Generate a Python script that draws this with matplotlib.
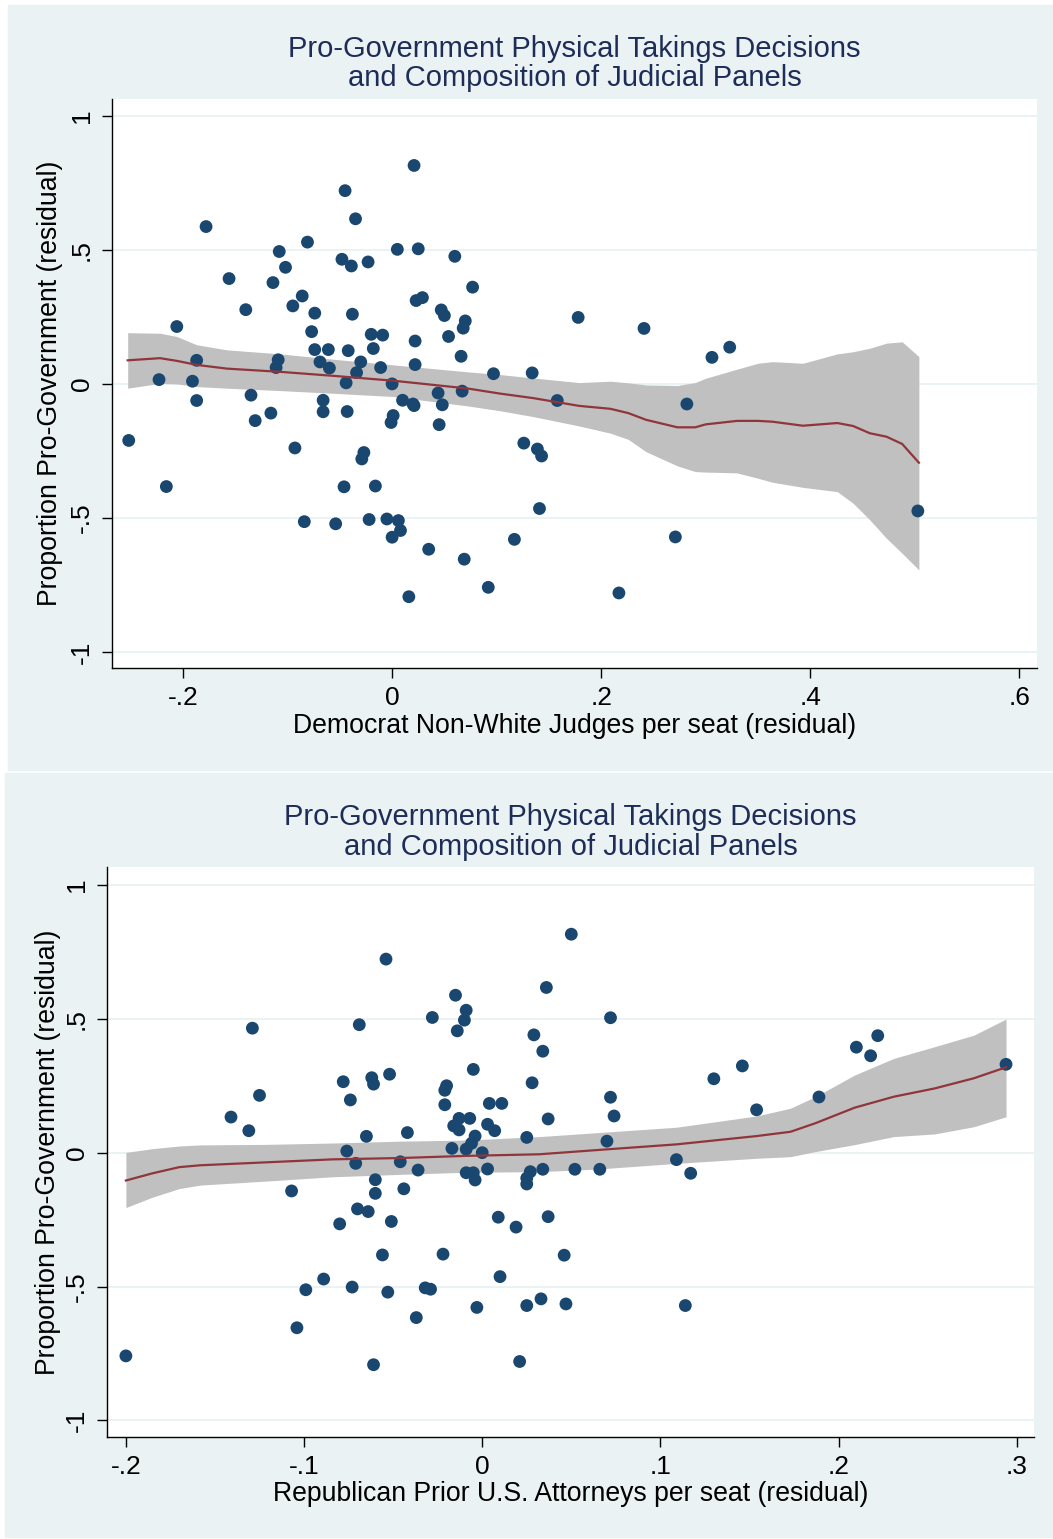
import numpy as np
import matplotlib
matplotlib.use("Agg")
import matplotlib.pyplot as plt
from matplotlib.patches import Rectangle

plt.rcParams['font.family'] = ['Liberation Sans', 'DejaVu Sans']

# --------------------------
# Colours (Stata s2color look)
# --------------------------
BG = "#EAF2F3"
NAVY = "#1A476F"
TITLE_NAVY = "#1E2D58"
MAROON = "#90353B"
BAND = "#C0C0C0"

# --------------------------
# Panel 1 data: Democrat Non-White Judges per seat
# --------------------------
dem_x = [0.021, -0.045, -0.035, -0.178, -0.081, -0.108, 0.005, 0.025, 0.060, -0.048,
         -0.039, -0.023, -0.102, -0.156, -0.114, 0.077, -0.140, -0.086, -0.095, -0.074,
         -0.038, 0.023, 0.029, 0.047, 0.050, 0.070, 0.068, 0.054, -0.206, -0.077,
         0.022, -0.020, -0.009, -0.018, -0.074, -0.061, -0.042, 0.066, -0.109, -0.111,
         -0.187, -0.069, -0.060, -0.030, -0.034, -0.011, 0.022, 0.097, -0.223, -0.191,
         -0.044, 0.000, -0.187, -0.135, -0.116, -0.131, -0.066, -0.066, -0.043, 0.010,
         0.020, 0.021, 0.044, 0.067, 0.048, 0.001, -0.001, 0.045, -0.252, -0.093,
         -0.027, -0.029, -0.216, -0.046, -0.016, -0.084, -0.054, -0.022, -0.005, 0.006,
         0.008, 0.000, 0.035, 0.069, 0.092, 0.016,
         0.134, 0.178, 0.241, 0.306, 0.323, 0.158, 0.282, 0.126, 0.139, 0.143,
         0.141, 0.503, 0.117, 0.271, 0.217]
dem_y = [0.815, 0.721, 0.616, 0.587, 0.529, 0.494, 0.502, 0.504, 0.476, 0.465,
         0.440, 0.455, 0.435, 0.393, 0.378, 0.361, 0.277, 0.328, 0.291, 0.264,
         0.260, 0.311, 0.322, 0.276, 0.255, 0.235, 0.208, 0.177, 0.214, 0.195,
         0.160, 0.185, 0.182, 0.132, 0.128, 0.128, 0.124, 0.103, 0.090, 0.061,
         0.088, 0.082, 0.059, 0.082, 0.042, 0.061, 0.072, 0.038, 0.016, 0.010,
         0.004, 0.000, -0.062, -0.042, -0.109, -0.137, -0.061, -0.104, -0.103, -0.061,
         -0.075, -0.081, -0.034, -0.027, -0.078, -0.118, -0.144, -0.152, -0.211, -0.239,
         -0.256, -0.280, -0.383, -0.384, -0.381, -0.514, -0.522, -0.506, -0.504, -0.510,
         -0.547, -0.572, -0.617, -0.654, -0.759, -0.794,
         0.041, 0.248, 0.207, 0.099, 0.137, -0.062, -0.075, -0.221, -0.243, -0.269,
         -0.465, -0.474, -0.580, -0.571, -0.780]

# smoothed fit with confidence band
dem_fit_x = [-0.253, -0.222, -0.206, -0.187, -0.158, -0.107, -0.056, 0.001, 0.072, 0.103,
             0.135, 0.179, 0.209, 0.226, 0.243, 0.273, 0.290, 0.300, 0.330, 0.350,
             0.364, 0.393, 0.426, 0.441, 0.457, 0.473, 0.488, 0.504]
dem_fit = [0.088, 0.096, 0.086, 0.071, 0.057, 0.045, 0.030, 0.012, -0.017, -0.036,
           -0.053, -0.082, -0.093, -0.109, -0.134, -0.162, -0.162, -0.151, -0.138, -0.138,
           -0.141, -0.156, -0.146, -0.157, -0.184, -0.197, -0.224, -0.294]
dem_hi = [0.191, 0.189, 0.177, 0.146, 0.127, 0.112, 0.092, 0.071, 0.045, 0.035,
          0.022, 0.005, 0.010, 0.004, -0.004, -0.006, 0.005, 0.021, 0.055, 0.077,
          0.083, 0.077, 0.112, 0.120, 0.133, 0.152, 0.157, 0.102]
dem_lo = [-0.016, 0.002, 0.000, -0.010, -0.016, -0.025, -0.035, -0.047, -0.082, -0.100,
          -0.122, -0.157, -0.184, -0.207, -0.253, -0.306, -0.327, -0.329, -0.332, -0.352,
          -0.367, -0.386, -0.402, -0.445, -0.507, -0.576, -0.632, -0.694]

# --------------------------
# Panel 2 data: Republican Prior U.S. Attorneys per seat
# --------------------------
rep_x = [-0.054, -0.015, -0.009, -0.010, -0.014, -0.028, 0.036, -0.129, -0.069, 0.029,
         0.034, -0.005, -0.052, -0.078, -0.062, -0.061, 0.028, -0.020, -0.021, -0.125,
         -0.074, -0.021, 0.004, 0.011, -0.141, 0.037, -0.013, -0.007, -0.016, -0.013,
         0.003, 0.007, -0.131, -0.065, -0.042, 0.025, -0.004, -0.006, -0.017, -0.009,
         0.000, -0.076, -0.071, -0.046, -0.036, -0.009, -0.004, -0.005, 0.003, 0.027,
         0.025, 0.034, -0.107, -0.060, -0.060, -0.044, -0.070, -0.064, -0.080, -0.051,
         0.009, 0.019, 0.037, -0.056, -0.022, 0.010, -0.089, -0.099, -0.073, -0.053,
         -0.032, -0.029, -0.003, 0.025, 0.033, -0.104, -0.037, -0.200, -0.061, 0.021,
         0.050, 0.072, 0.072, 0.074, 0.070, 0.052, 0.066, 0.046, 0.047, 0.109,
         0.117, 0.114, 0.130, 0.146, 0.154, 0.189, 0.210, 0.218, 0.222, 0.294,
         0.025]
rep_y = [0.723, 0.588, 0.532, 0.495, 0.455, 0.505, 0.617, 0.465, 0.478, 0.440,
         0.379, 0.311, 0.293, 0.265, 0.280, 0.256, 0.261, 0.250, 0.233, 0.214,
         0.197, 0.179, 0.184, 0.184, 0.133, 0.126, 0.128, 0.128, 0.100, 0.085,
         0.106, 0.082, 0.082, 0.061, 0.075, 0.057, 0.062, 0.035, 0.016, 0.013,
         0.000, 0.006, -0.040, -0.034, -0.065, -0.075, -0.102, -0.075, -0.061, -0.071,
         -0.117, -0.062, -0.143, -0.101, -0.152, -0.135, -0.210, -0.220, -0.266, -0.257,
         -0.241, -0.278, -0.239, -0.382, -0.379, -0.463, -0.472, -0.512, -0.502, -0.521,
         -0.505, -0.510, -0.578, -0.571, -0.546, -0.654, -0.616, -0.759, -0.792, -0.780,
         0.816, 0.504, 0.207, 0.137, 0.043, -0.062, -0.062, -0.383, -0.565, -0.026,
         -0.077, -0.571, 0.276, 0.324, 0.160, 0.208, 0.394, 0.362, 0.437, 0.330,
         -0.095]

rep_fit_x = [-0.200, -0.185, -0.170, -0.158, -0.121, -0.084, -0.046, -0.009, 0.032, 0.065,
             0.109, 0.154, 0.173, 0.187, 0.209, 0.231, 0.254, 0.276, 0.294]
rep_fit = [-0.104, -0.077, -0.054, -0.047, -0.036, -0.025, -0.020, -0.012, -0.006, 0.010,
           0.031, 0.062, 0.078, 0.110, 0.168, 0.209, 0.240, 0.278, 0.319]
rep_hi = [0.001, 0.015, 0.025, 0.029, 0.031, 0.036, 0.043, 0.047, 0.060, 0.075,
          0.095, 0.137, 0.166, 0.209, 0.290, 0.352, 0.396, 0.439, 0.499]
rep_lo = [-0.205, -0.166, -0.134, -0.121, -0.106, -0.090, -0.081, -0.073, -0.071, -0.061,
          -0.040, -0.021, -0.015, 0.004, 0.030, 0.060, 0.070, 0.097, 0.134]

title = "Pro-Government Physical Takings Decisions\nand Composition of Judicial Panels"
ylab = "Proportion Pro-Government (residual)"
ytick_vals = [-1, -0.5, 0, 0.5, 1]
ytick_labs = ["-1", "-.5", "0", ".5", "1"]


def draw_panel(ax, x, y, fx, fit, lo, hi, xticks, xlabs, xlabel, xlim, ylim):
    ax.set_facecolor("white")
    ax.fill_between(fx, lo, hi, color=BAND, lw=0, zorder=2)
    ax.scatter(x, y, s=85, color=NAVY, edgecolors="none", zorder=3)
    ax.plot(fx, fit, color=MAROON, lw=1.6, zorder=4)
    ax.set_xlim(*xlim)
    ax.set_ylim(*ylim)
    ax.set_yticks(ytick_vals)
    ax.set_yticklabels(ytick_labs, rotation=90, va="center")
    ax.set_xticks(xticks)
    ax.set_xticklabels(xlabs)
    ax.grid(axis="y", color=BG, lw=1.4, zorder=0)
    ax.set_axisbelow(True)
    for side in ["top", "right"]:
        ax.spines[side].set_visible(False)
    for side in ["left", "bottom"]:
        ax.spines[side].set_color("black")
        ax.spines[side].set_linewidth(1.0)
    ax.tick_params(direction="out", length=7, width=1, labelsize=19, colors="black", pad=6)
    ax.set_xlabel(xlabel, fontsize=19.2)
    ax.set_ylabel(ylab, fontsize=19.2)


fig = plt.figure(figsize=(10.53, 15.39), dpi=100)
H = 1539.0
W = 1053.0

# panel backgrounds (behind the axes)
fig.patches.append(Rectangle((8 / W, 1 - 770 / H), 1, (770 - 5) / H, transform=fig.transFigure,
                             color=BG, zorder=-5))
fig.patches.append(Rectangle((5 / W, 1 - 1537 / H), 1, (1537 - 773) / H, transform=fig.transFigure,
                             color=BG, zorder=-5))

# top panel
ax1 = fig.add_axes([112 / W, 1 - 668 / H, (1037 - 112) / W, (668 - 99) / H])
draw_panel(ax1, dem_x, dem_y, dem_fit_x, dem_fit, dem_lo, dem_hi,
           [-0.2, 0, 0.2, 0.4, 0.6], ["-.2", "0", ".2", ".4", ".6"],
           "Democrat Non-White Judges per seat (residual)",
           (-0.268, 0.617), (-1.060, 1.063))
ax1.xaxis.set_label_coords(0.5, (668 - 726) / 569.0)
ax1.xaxis.label.set_va("center")
ax1.yaxis.set_label_coords((50 - 112) / 925.0, 0.5)
ax1.yaxis.label.set_va("center")
fig.text(574.5 / W, 1 - 63.5 / H, title, ha="center", va="center", fontsize=21,
         color=TITLE_NAVY, linespacing=1.05)

# bottom panel
ax2 = fig.add_axes([107 / W, 1 - 1437 / H, (1034 - 107) / W, (1437 - 867) / H])
draw_panel(ax2, rep_x, rep_y, rep_fit_x, rep_fit, rep_lo, rep_hi,
           [-0.2, -0.1, 0, 0.1, 0.2, 0.3], ["-.2", "-.1", "0", ".1", ".2", ".3"],
           "Republican Prior U.S. Attorneys per seat (residual)",
           (-0.2106, 0.3097), (-1.062, 1.067))
ax2.xaxis.set_label_coords(0.5, (1437 - 1494) / 570.0)
ax2.xaxis.label.set_va("center")
ax2.yaxis.set_label_coords((48 - 107) / 927.0, 0.5)
ax2.yaxis.label.set_va("center")
fig.text(570.5 / W, 1 - 832 / H, title, ha="center", va="center", fontsize=21,
         color=TITLE_NAVY, linespacing=1.05)

fig.savefig("out.png", dpi=100, facecolor="white")
